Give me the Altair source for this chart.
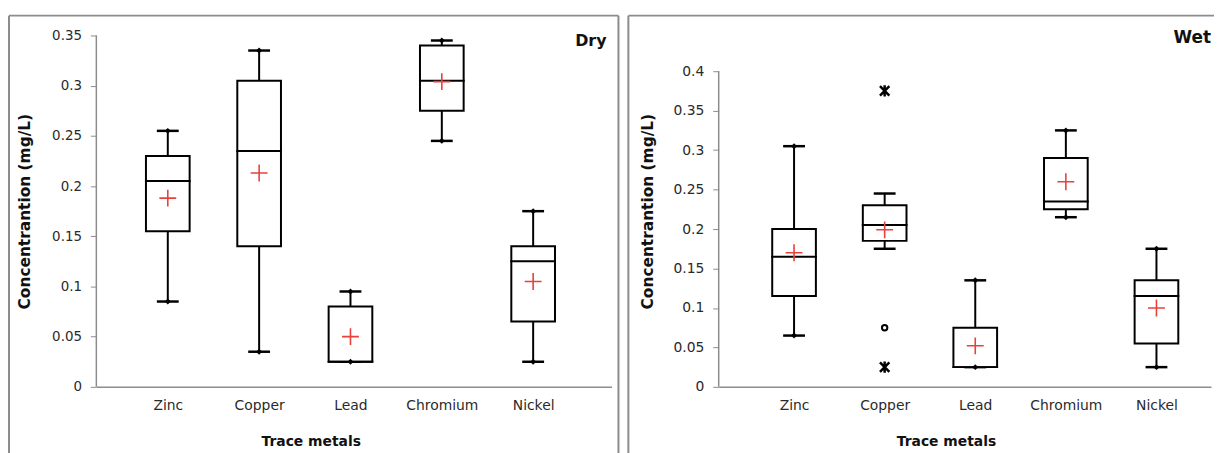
import altair as alt
import pandas as pd

metals = ["Zinc", "Copper", "Lead", "Chromium", "Nickel"]

# Dry season box statistics (mg/L)
dry_min = [0.085, 0.035, 0.025, 0.245, 0.025]
dry_q1 = [0.155, 0.14, 0.025, 0.275, 0.065]
dry_median = [0.205, 0.235, 0.025, 0.305, 0.125]
dry_q3 = [0.23, 0.305, 0.08, 0.34, 0.14]
dry_max = [0.255, 0.335, 0.095, 0.345, 0.175]
dry_mean = [0.188, 0.213, 0.05, 0.304, 0.105]
dry_whisker_dots = [True, True, True, True, True]

# Wet season box statistics (mg/L)
wet_min = [0.065, 0.175, 0.025, 0.215, 0.025]
wet_q1 = [0.115, 0.185, 0.025, 0.225, 0.055]
wet_median = [0.165, 0.205, 0.025, 0.235, 0.115]
wet_q3 = [0.2, 0.23, 0.075, 0.29, 0.135]
wet_max = [0.305, 0.245, 0.135, 0.325, 0.175]
wet_mean = [0.17, 0.199, 0.052, 0.26, 0.1]
wet_whisker_dots = [True, False, True, True, True]

wet_outlier_metal = ["Copper", "Copper", "Copper"]
wet_outlier_value = [0.375, 0.075, 0.025]
wet_outlier_kind = ["extreme", "mild", "extreme"]

dry_ticks = [0, 0.05, 0.1, 0.15, 0.2, 0.25, 0.3, 0.35]
wet_ticks = [0, 0.05, 0.1, 0.15, 0.2, 0.25, 0.3, 0.35, 0.4]

y_title = "Concentrantion (mg/L)"
x_title = "Trace metals"

FONT = "DejaVu Sans"
RED = "#e8413c"
FRAME = "#8c8c8c"
AXIS = "#8c8c8c"

PLOT_H = 354
CROSS = "M-1,0L1,0M0,-1L0,1"
STAR = "M-1,-1L1,1M-1,1L1,-1M0,-1.2L0,1.2"


def panel(label, mins, q1, med, q3, maxs, means, dots, ticks, ymax, width,
          pad, align, xtitle_x, frame_left, frame_right, frame_right_line,
          label_x, label_y, label_size, outliers=None, ylabel_size=13):
    df = pd.DataFrame({
        "metal": metals, "min": mins, "q1": q1, "median": med,
        "q3": q3, "max": maxs, "mean": means, "dot": dots,
    })
    xenc = alt.X(
        "metal:N", sort=metals,
        scale=alt.Scale(type="point", padding=pad, align=align),
        axis=alt.Axis(
            title=x_title, labelAngle=0, ticks=False, domainColor=AXIS,
            domainWidth=1.5, labelFont=FONT, labelFontSize=14,
            labelColor="#2a2a2a", labelPadding=12, titleFont=FONT,
            titleFontSize=14, titleFontWeight="bold", titleColor="#111111",
            titleX=xtitle_x, titleY=59, titleAlign="center",
            titleBaseline="alphabetic", titleAnchor="start",
        ),
    )
    yscale = alt.Scale(domain=[0, ymax], nice=False, zero=True)
    yaxis = alt.Axis(
        title=y_title, values=ticks, format="~g", grid=False, domain=False,
        tickColor=AXIS, tickSize=6, labelFont=FONT, labelFontSize=ylabel_size,
        labelColor="#2a2a2a", labelPadding=9, titleFont=FONT,
        titleFontSize=15.5, titleFontWeight="bold", titleColor="#111111",
        titleAngle=270, titleX=-72, titleY=177, titleAlign="center",
        titleBaseline="middle",
    )

    def Y(field):
        return alt.Y(f"{field}:Q", scale=yscale, axis=yaxis)

    base = alt.Chart(df)
    whisk = base.mark_rule(color="black", strokeWidth=2).encode(
        x=xenc, y=Y("min"), y2="max:Q")
    cap_lo = base.mark_tick(color="black", size=22, thickness=2.5,
                            opacity=1).encode(x=xenc, y=Y("min"))
    cap_hi = base.mark_tick(color="black", size=22, thickness=2.5,
                            opacity=1).encode(x=xenc, y=Y("max"))
    box = base.mark_bar(size=44, fill="white", stroke="black",
                        strokeWidth=2).encode(x=xenc, y=Y("q1"), y2="q3:Q")
    median = base.mark_tick(color="black", size=46, thickness=2,
                            opacity=1).encode(x=xenc, y=Y("median"))
    dotbase = base.transform_filter("datum.dot")
    dot_lo = dotbase.mark_point(shape="diamond", size=36, filled=True,
                                color="black", opacity=1).encode(
        x=xenc, y=Y("min"))
    dot_hi = dotbase.mark_point(shape="diamond", size=36, filled=True,
                                color="black", opacity=1).encode(
        x=xenc, y=Y("max"))
    mean = base.mark_point(shape=CROSS, size=289, filled=False, color=RED,
                           strokeWidth=1.6, opacity=1).encode(
        x=xenc, y=Y("mean"))

    # y axis line from 0 to the top tick
    axis_line = alt.Chart(pd.DataFrame({"a": [0]})).mark_rule(
        color=AXIS, strokeWidth=1.5).encode(
        x=alt.value(0), y=alt.datum(0), y2=alt.datum(ticks[-1]))

    one = alt.Chart(pd.DataFrame({"t": [label]}))
    frame_l = one.mark_rule(color=FRAME, strokeWidth=2).encode(
        x=alt.value(frame_left), y=alt.value(-20), y2=alt.value(425))
    frame_t = one.mark_rule(color=FRAME, strokeWidth=2).encode(
        x=alt.value(frame_left), x2=alt.value(frame_right), y=alt.value(-20))
    txt = one.mark_text(font=FONT, fontSize=label_size, fontWeight="bold",
                        align="right", baseline="alphabetic",
                        color="#111111").encode(
        text="t:N", x=alt.value(label_x), y=alt.value(label_y))

    layers = [frame_l, frame_t]
    if frame_right_line:
        layers.append(one.mark_rule(color=FRAME, strokeWidth=2).encode(
            x=alt.value(frame_right), y=alt.value(-20), y2=alt.value(425)))
    layers += [axis_line, whisk, cap_lo, cap_hi, box, median, dot_lo,
               dot_hi, mean, txt]

    if outliers is not None:
        odf = pd.DataFrame({"metal": outliers[0], "val": outliers[1],
                            "kind": outliers[2]})
        ob = alt.Chart(odf)
        stars = ob.transform_filter("datum.kind == 'extreme'").mark_point(
            shape=STAR, size=90, filled=False, color="black",
            strokeWidth=2.5, opacity=1).encode(x=xenc, y=Y("val"))
        circ = ob.transform_filter("datum.kind == 'mild'").mark_point(
            shape="circle", size=30, filled=False, color="black",
            strokeWidth=2, opacity=1).encode(x=xenc, y=Y("val"))
        layers += [stars, circ]

    return alt.layer(*layers).properties(width=width, height=PLOT_H)


left = panel("Dry", dry_min, dry_q1, dry_median, dry_q3, dry_max, dry_mean,
             dry_whisker_dots, dry_ticks, 0.35, 519, 0.82, 0.477, 216,
             -88, 526, True, 514, 11, 16, ylabel_size=13.5)

right = panel("Wet", wet_min, wet_q1, wet_median, wet_q3, wet_max, wet_mean,
              wet_whisker_dots, wet_ticks, 0.4 * PLOT_H / 318, 496, 0.717,
              0.58, 229, -91, 499, False, 496, 8, 17,
              outliers=(wet_outlier_metal, wet_outlier_value,
                        wet_outlier_kind), ylabel_size=14)

chart = alt.hconcat(left, right, spacing=108, bounds="flush").properties(
    padding={"left": 0, "top": 5, "right": 0, "bottom": 0},
    background="white",
).configure_view(stroke=None)

chart.save("out.html", embed_options={"renderer": "svg", "actions": False})
